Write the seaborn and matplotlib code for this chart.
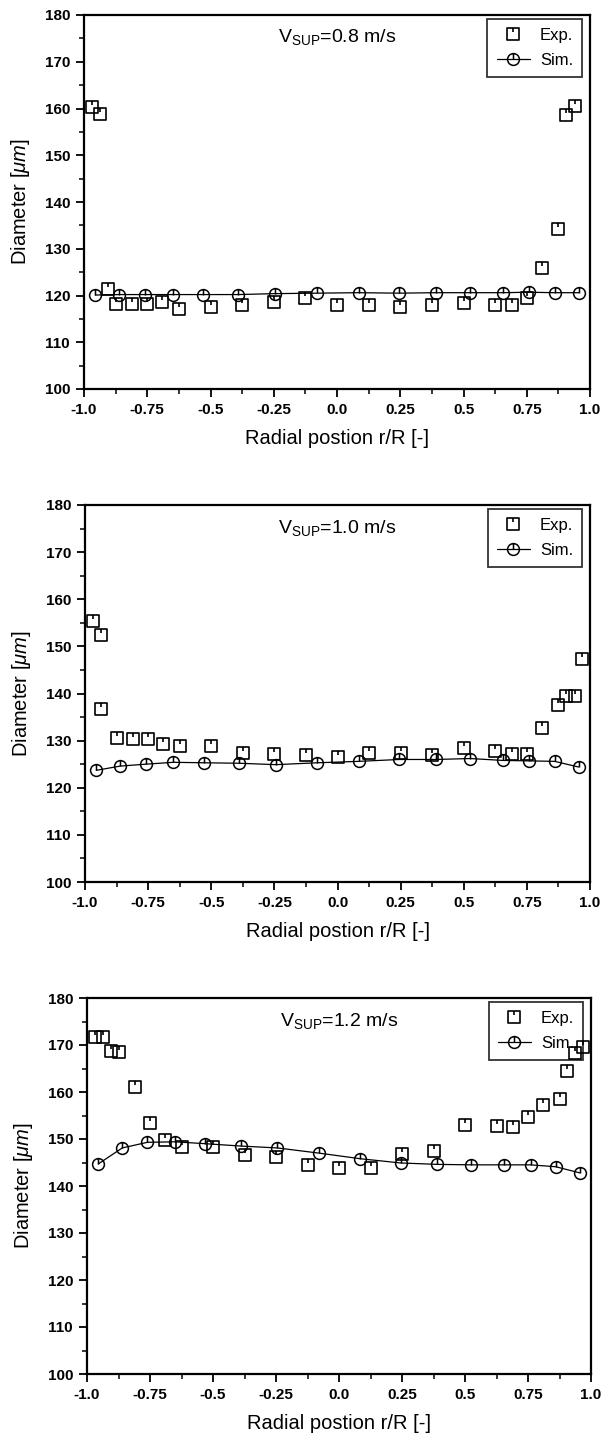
import numpy as np
import pandas as pd
import matplotlib
matplotlib.use("Agg")
import matplotlib.pyplot as plt
from matplotlib.path import Path
import seaborn as sns

# ---------------- data ----------------
titles = ["0.8", "1.0", "1.2"]

exp_x1 = [-0.97, -0.935, -0.905, -0.875, -0.81, -0.75, -0.69, -0.625, -0.5, -0.375, -0.25, -0.125,
          0.0, 0.125, 0.25, 0.375, 0.5, 0.625, 0.69, 0.75, 0.81, 0.875, 0.905, 0.94]
exp_y1 = [160.4, 158.9, 121.3, 118.1, 118.1, 118.1, 118.6, 117.1, 117.6, 117.9, 118.6, 119.4,
          117.9, 117.9, 117.6, 117.9, 118.3, 117.9, 117.9, 119.5, 125.8, 134.3, 158.6, 160.6]

exp_x2 = [-0.97, -0.935, -0.935, -0.875, -0.81, -0.75, -0.69, -0.625, -0.5, -0.375, -0.25, -0.125,
          0.0, 0.125, 0.25, 0.375, 0.5, 0.625, 0.69, 0.75, 0.81, 0.875, 0.905, 0.94, 0.97]
exp_y2 = [155.3, 152.5, 136.7, 130.6, 130.3, 130.3, 129.2, 128.8, 128.9, 127.3, 127.2, 126.9,
          126.6, 127.3, 127.3, 126.9, 128.4, 127.9, 127.2, 127.2, 132.6, 137.6, 139.5, 139.5, 147.3]

exp_x3 = [-0.97, -0.935, -0.905, -0.875, -0.81, -0.75, -0.69, -0.625, -0.5, -0.375, -0.25, -0.125,
          0.0, 0.125, 0.25, 0.375, 0.5, 0.625, 0.69, 0.75, 0.81, 0.875, 0.905, 0.935, 0.97]
exp_y3 = [171.8, 171.7, 168.8, 168.5, 161.1, 153.3, 149.7, 148.3, 148.3, 146.7, 146.2, 144.5,
          143.8, 143.8, 146.9, 147.5, 153.0, 152.8, 152.6, 154.7, 157.3, 158.6, 164.5, 168.4, 169.6]

sim_x = [-0.955, -0.86, -0.76, -0.65, -0.53, -0.39, -0.245, -0.08, 0.085, 0.245, 0.39, 0.525,
         0.655, 0.76, 0.86, 0.955]
sim_y1 = [120.1, 120.2, 120.2, 120.2, 120.2, 120.2, 120.4, 120.5, 120.6, 120.5, 120.6, 120.6,
          120.6, 120.7, 120.6, 120.6]
sim_y2 = [123.7, 124.6, 125.0, 125.4, 125.3, 125.2, 124.9, 125.3, 125.6, 126.0, 126.0, 126.2,
          125.8, 125.7, 125.6, 124.4]
sim_y3 = [144.7, 148.1, 149.3, 149.4, 149.0, 148.5, 148.1, 147.0, 145.8, 144.9, 144.6, 144.5,
          144.5, 144.5, 144.1, 142.8]

x_ticks = [-1.0, -0.75, -0.5, -0.25, 0.0, 0.25, 0.5, 0.75, 1.0]
x_ticklabels = ["-1.0", "-0.75", "-0.5", "-0.25", "0.0", "0.25", "0.5", "0.75", "1.0"]
y_ticks = [100, 110, 120, 130, 140, 150, 160, 170, 180]

# ---------------- style ----------------
sns.set_theme(style="ticks")
plt.rcParams["font.family"] = ["Liberation Sans", "DejaVu Sans"]
plt.rcParams["mathtext.fontset"] = "custom"
plt.rcParams["mathtext.rm"] = "Liberation Sans"
plt.rcParams["mathtext.it"] = "Liberation Sans:italic"
plt.rcParams["mathtext.bf"] = "Liberation Sans:bold"
plt.rcParams["text.color"] = "black"
plt.rcParams["axes.labelcolor"] = "black"
plt.rcParams["xtick.color"] = "black"
plt.rcParams["ytick.color"] = "black"

# custom markers: square with a tick, circle with a vertical bar
sq_marker = Path([(-1, -1), (1, -1), (1, 1), (-1, 1), (-1, -1), (0, 1), (0, 0.35)],
                 [Path.MOVETO, Path.LINETO, Path.LINETO, Path.LINETO, Path.CLOSEPOLY,
                  Path.MOVETO, Path.LINETO])
circ_marker = Path.make_compound_path(Path.unit_circle(),
                                      Path([(0, 1), (0, 0)], [Path.MOVETO, Path.LINETO]))

fig = plt.figure(figsize=(6.06, 14.41), dpi=100)
positions = [
    (84 / 606, 1 - 389 / 1441, 506 / 606, 374 / 1441),
    (85 / 606, 1 - 882 / 1441, 505 / 606, 377 / 1441),
    (87 / 606, 1 - 1374 / 1441, 504 / 606, 376 / 1441),
]
exps = [(exp_x1, exp_y1), (exp_x2, exp_y2), (exp_x3, exp_y3)]
sims = [sim_y1, sim_y2, sim_y3]

for i in range(3):
    ax = fig.add_axes(positions[i])
    ex, ey = exps[i]
    df_exp = pd.DataFrame({"x": ex, "y": ey})
    df_sim = pd.DataFrame({"x": sim_x, "y": sims[i]})

    sns.lineplot(data=df_sim, x="x", y="y", ax=ax, estimator=None, sort=False,
                 color="black", linewidth=0.9, marker=circ_marker, markersize=8.5,
                 markerfacecolor="none", markeredgecolor="black", markeredgewidth=1.1,
                 label="Sim.", zorder=3)
    sns.lineplot(data=df_exp, x="x", y="y", ax=ax, estimator=None, sort=False,
                 color="black", linestyle="", marker=sq_marker, markersize=8.5,
                 markerfacecolor="none", markeredgecolor="black", markeredgewidth=1.2,
                 label="Exp.", zorder=4)

    ax.set_xlim(-1.0, 1.0)
    ax.set_ylim(100, 180)
    ax.set_xticks(x_ticks)
    ax.set_xticklabels(x_ticklabels)
    ax.set_yticks(y_ticks)
    ax.set_xticks(np.arange(-0.875, 1.0, 0.25), minor=True)
    ax.set_yticks(np.arange(105, 180, 10), minor=True)
    ax.tick_params(axis="both", which="major", direction="out", length=6, width=1.3,
                   labelsize=11, pad=4, colors="black")
    ax.tick_params(axis="both", which="minor", direction="out", length=3.5, width=1.1)
    for lab in ax.get_xticklabels() + ax.get_yticklabels():
        lab.set_fontweight("bold")
    for sp in ax.spines.values():
        sp.set_visible(True)
        sp.set_linewidth(1.6)
        sp.set_color("black")

    ax.set_xlabel("Radial postion r/R [-]", fontsize=14.5, labelpad=9)
    ax.set_ylabel(r"Diameter [$\mu m$]", fontsize=14.5, labelpad=9)

    ax.text(0.5, 0.94, r"V$_{\mathregular{SUP}}$=" + titles[i] + " m/s",
            transform=ax.transAxes, ha="center", va="center", fontsize=14)

    handles, labels = ax.get_legend_handles_labels()
    order = [labels.index("Exp."), labels.index("Sim.")]
    leg = ax.legend([handles[k] for k in order], [labels[k] for k in order],
                    loc="upper right", bbox_to_anchor=(0.985, 0.99), borderaxespad=0,
                    frameon=True, fancybox=False, edgecolor="black", fontsize=12,
                    handlelength=2.0, handletextpad=0.6, labelspacing=0.6, borderpad=0.55)
    leg.get_frame().set_linewidth(1.3)
    leg.set_zorder(1)

fig.savefig("out.png", dpi=100, facecolor="white")
